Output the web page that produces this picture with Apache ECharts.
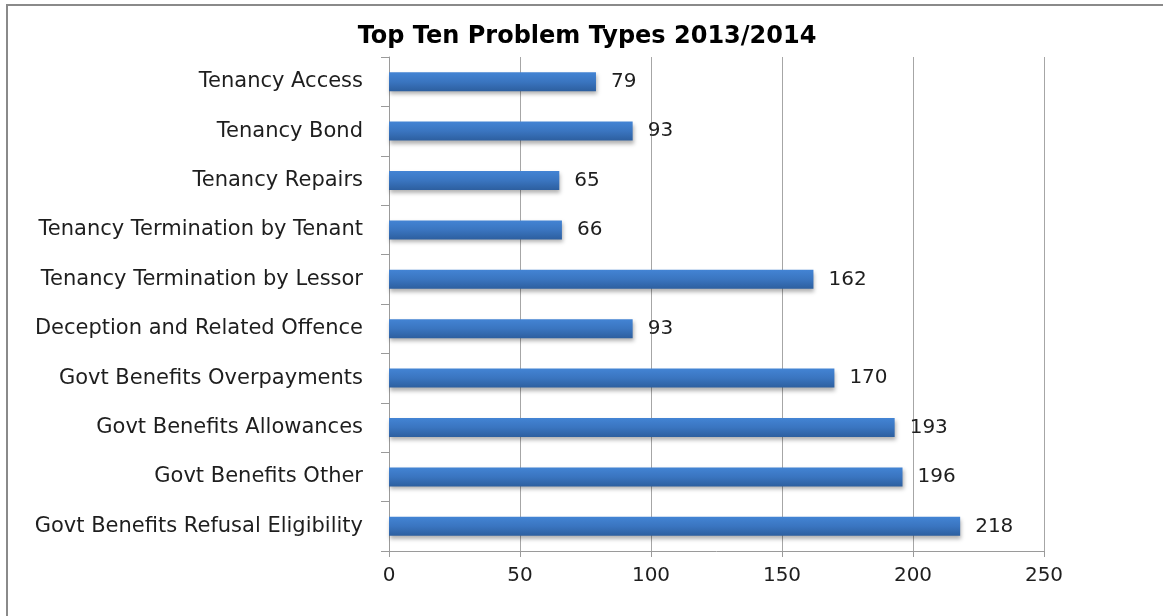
<!DOCTYPE html>
<html>
<head>
<meta charset="utf-8">
<script src="https://cdn.jsdelivr.net/npm/echarts@6/dist/echarts.min.js"></script>
<style>
html,body{margin:0;padding:0;background:#fff;}
#chart{width:1163px;height:616px;}
</style>
</head>
<body>
<div id="chart"></div>
<script>
const titleText = 'Top Ten Problem Types 2013/2014';
const categories = [
  'Tenancy Access',
  'Tenancy Bond',
  'Tenancy Repairs',
  'Tenancy Termination by Tenant',
  'Tenancy Termination by Lessor',
  'Deception and Related Offence',
  'Govt Benefits Overpayments',
  'Govt Benefits Allowances',
  'Govt Benefits Other',
  'Govt Benefits Refusal Eligibility'
];
const values = [79, 93, 65, 66, 162, 93, 170, 193, 196, 218];
const xMin = 0, xMax = 250, xInterval = 50;

const chart = echarts.init(document.getElementById('chart'), null, {renderer: 'canvas'});
const font = '"DejaVu Sans", Verdana, sans-serif';
chart.setOption({
  animation: false,
  backgroundColor: '#fff',
  graphic: [{
    type: 'rect',
    shape: {x: 7, y: 5, width: 1300, height: 800},
    style: {fill: 'none', stroke: '#8a8a8a', lineWidth: 2},
    z: 100
  }],
  title: {
    text: titleText,
    left: 582,
    textAlign: 'center',
    top: 20,
    textStyle: {fontFamily: font, fontSize: 24, fontWeight: 'bold', color: '#000'}
  },
  grid: {left: 389, right: 119, top: 57, bottom: 65, containLabel: false},
  xAxis: {
    type: 'value',
    min: xMin, max: xMax, interval: xInterval,
    axisLine: {show: true, lineStyle: {color: '#9a9a9a', width: 1}},
    axisTick: {show: true, length: 6, lineStyle: {color: '#9a9a9a'}},
    splitLine: {show: true, lineStyle: {color: '#a6a6a6', width: 1}},
    axisLabel: {fontFamily: font, fontSize: 20, color: '#1e1e1e', margin: 15}
  },
  yAxis: {
    type: 'category',
    data: categories,
    inverse: true,
    axisLine: {show: true, lineStyle: {color: '#9a9a9a', width: 1}},
    axisTick: {show: true, length: 8, lineStyle: {color: '#9a9a9a'}},
    axisLabel: {fontFamily: font, fontSize: 21, color: '#1e1e1e', margin: 26}
  },
  series: [{
    type: 'bar',
    data: values,
    barWidth: 19,
    itemStyle: {
      color: new echarts.graphic.LinearGradient(0, 0, 0, 1, [
        {offset: 0, color: '#4384d4'},
        {offset: 0.5, color: '#3a75c0'},
        {offset: 1, color: '#2d5f9f'}
      ]),
      shadowColor: 'rgba(0,0,0,0.3)',
      shadowBlur: 4,
      shadowOffsetY: 3,
      shadowOffsetX: 1
    },
    label: {
      show: true,
      position: 'right',
      distance: 15,
      fontFamily: font,
      fontSize: 20,
      color: '#1e1e1e'
    }
  }]
});
</script>
</body>
</html>
